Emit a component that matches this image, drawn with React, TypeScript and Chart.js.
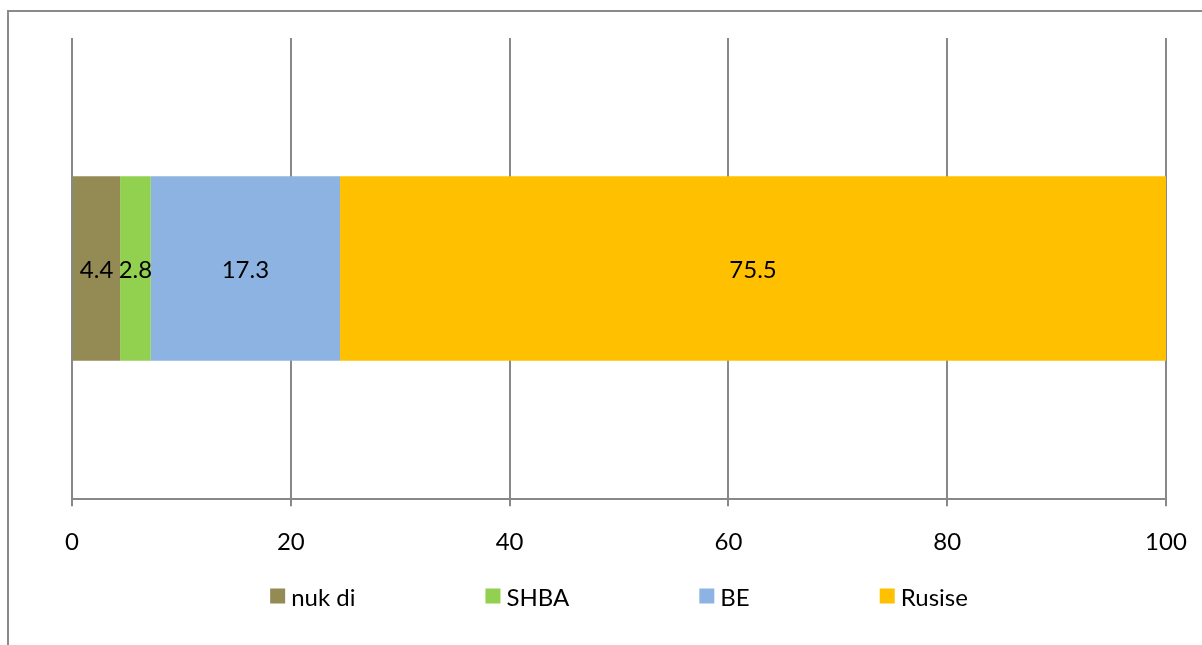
import React, { useEffect, useRef } from "react";
import { Chart, registerables } from "chart.js";

Chart.register(...registerables);

const categories: string[] = [""];
const seriesNames: string[] = ["nuk di", "SHBA", "BE", "Rusise"];
const seriesValues: number[] = [4.4, 2.8, 17.3, 75.5];
const seriesColors: string[] = ["#948A54", "#92D050", "#8DB3E2", "#FFC000"];
const xTicks: number[] = [0, 20, 40, 60, 80, 100];

const FONT = "Lato, 'DejaVu Sans', sans-serif";
const GRID = "#888888";

const framePlugin = {
  id: "frame",
  beforeDraw(chart: any) {
    const ctx = chart.ctx;
    ctx.save();
    ctx.fillStyle = "#8a8a8a";
    ctx.fillRect(7, 10, 2, chart.height - 10);
    ctx.fillRect(7, 10, chart.width - 7, 2);
    ctx.restore();
  },
};

const valueLabelPlugin = {
  id: "valueLabels",
  afterDatasetsDraw(chart: any) {
    const ctx = chart.ctx;
    ctx.save();
    ctx.font = `24px ${FONT}`;
    ctx.fillStyle = "#000000";
    ctx.textAlign = "center";
    ctx.textBaseline = "middle";
    chart.data.datasets.forEach((ds: any, i: number) => {
      const meta = chart.getDatasetMeta(i);
      meta.data.forEach((el: any, j: number) => {
        const v = ds.data[j];
        const cx = (el.x + el.base) / 2;
        ctx.fillText(String(v), cx, el.y + 2);
      });
    });
    ctx.restore();
  },
};

const customLegendPlugin = {
  id: "customLegend",
  afterDraw(chart: any) {
    const ctx = chart.ctx;
    ctx.save();
    ctx.font = `24px ${FONT}`;
    const box = 15;
    const boxGap = 6;
    const itemGap = 130;
    const items = chart.data.datasets.map((ds: any) => ({
      text: ds.label,
      color: ds.backgroundColor,
      w: box + boxGap + ctx.measureText(ds.label).width,
    }));
    const total = items.reduce((s: number, it: any) => s + it.w, 0) + itemGap * (items.length - 1);
    const area = chart.chartArea;
    let x = (area.left + area.right) / 2 - total / 2;
    const y = 598;
    ctx.textBaseline = "middle";
    ctx.textAlign = "left";
    items.forEach((it: any) => {
      ctx.fillStyle = it.color;
      ctx.fillRect(x, y - box / 2 - 2, box, box);
      ctx.fillStyle = "#000000";
      ctx.fillText(it.text, x + box + boxGap, y);
      x += it.w + itemGap;
    });
    ctx.restore();
  },
};

export default function App() {
  const ref = useRef<HTMLCanvasElement | null>(null);
  useEffect(() => {
    if (!ref.current) return;
    const chart = new Chart(ref.current, {
      type: "bar",
      data: {
        labels: categories,
        datasets: seriesNames.map((name, i) => ({
          label: name,
          data: [seriesValues[i]],
          backgroundColor: seriesColors[i],
          borderWidth: 0,
          barPercentage: 1,
          categoryPercentage: 0.4,
        })),
      },
      options: {
        indexAxis: "y",
        animation: false,
        responsive: true,
        maintainAspectRatio: false,
        layout: { padding: { left: 72, right: 36, top: 38, bottom: 66 } },
        plugins: {
          legend: { display: false },
          tooltip: { enabled: false },
        },
        scales: {
          x: {
            stacked: true,
            min: 0,
            max: 100,
            afterBuildTicks: (axis: any) => {
              axis.ticks = xTicks.map((v) => ({ value: v }));
            },
            afterFit: (axis: any) => {
              axis.paddingLeft = 0;
              axis.paddingRight = 0;
            },
            grid: { color: GRID, lineWidth: 2, tickLength: 7, drawTicks: true },
            border: { display: true, color: GRID, width: 2 },
            ticks: {
              color: "#000000",
              font: { family: FONT, size: 24 },
              padding: 22,
              maxRotation: 0,
            },
          },
          y: {
            stacked: true,
            display: false,
          },
        },
      },
      plugins: [framePlugin, valueLabelPlugin, customLegendPlugin],
    });
    return () => chart.destroy();
  }, []);
  return (
    <div style={{ position: "fixed", left: 0, top: 0, width: 1202, height: 645, background: "#fff" }}>
      <canvas ref={ref} />
    </div>
  );
}
